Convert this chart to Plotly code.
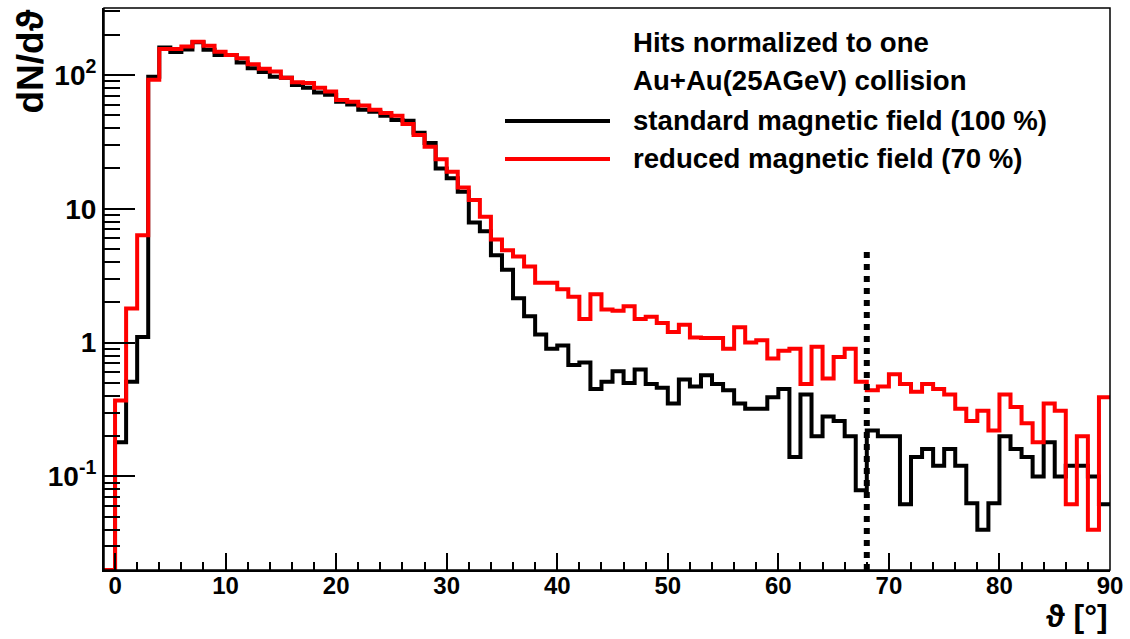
import plotly.graph_objects as go
import numpy as np

# ---------------- data (bin contents, 1-degree bins starting at -1) ----------------
bin_low_edges = list(range(-1, 90))  # left edges of bins: -1 ... 89
x_upper = 90

standard_field = [0,
    0.18, 0.51, 1.1, 97, 160, 148, 155, 175, 154, 141,
    141, 124, 112, 105, 97, 95, 84, 80, 74, 71,
    63, 60, 55, 53, 49.5, 46, 45.5, 37, 31, 20,
    16.9, 13.4, 7.9, 6.8, 4.5, 3.5, 2.14, 1.57, 1.15, 0.9,
    0.95, 0.68, 0.71, 0.45, 0.51, 0.61, 0.50, 0.63, 0.49, 0.46,
    0.35, 0.53, 0.47, 0.57, 0.49, 0.44, 0.35, 0.32, 0.32, 0.39,
    0.45, 0.14, 0.41, 0.20, 0.28, 0.26, 0.20, 0.079, 0.22, 0.20,
    0.20, 0.062, 0.14, 0.16, 0.12, 0.16, 0.12, 0.063, 0.040, 0.063,
    0.20, 0.16, 0.14, 0.10, 0.18, 0.10, 0.12, 0.12, 0.10, 0.062]

reduced_field = [0,
    0.37, 1.8, 6.35, 92, 156, 156, 163, 177, 165, 149,
    141, 133, 120, 111, 106, 95, 88, 87, 80, 75,
    65, 63, 59, 55, 52, 49.5, 43, 35.6, 29, 23.4,
    18.9, 14.4, 11.6, 8.7, 5.9, 4.9, 4.4, 3.7, 2.8, 2.8,
    2.5, 2.2, 1.5, 2.3, 1.77, 1.73, 1.87, 1.5, 1.56, 1.40,
    1.2, 1.36, 1.09, 1.08, 1.08, 0.9, 1.3, 1.0, 1.04, 0.76,
    0.87, 0.9, 0.49, 0.93, 0.54, 0.78, 0.9, 0.51, 0.44, 0.47,
    0.58, 0.49, 0.43, 0.49, 0.45, 0.41, 0.32, 0.26, 0.31, 0.22,
    0.41, 0.33, 0.25, 0.18, 0.35, 0.31, 0.062, 0.20, 0.040, 0.39]

cut_angle = 68
cut_top = 5

y_min, y_max = 0.02, 316
x_min, x_max = -1, 90

legend_header = ["Hits normalized to one", "Au+Au(25AGeV) collision"]
series_names = ["standard magnetic field (100 %)", "reduced magnetic field (70 %)"]
series_colors = ["#000000", "#ff0000"]

FONT = "Liberation Sans, Arial, sans-serif"

# ---------------- figure ----------------
fig = go.Figure()

def step_xy(vals):
    xs = bin_low_edges + [x_upper]
    ys = [v if v > 0 else y_min for v in vals]
    ys = ys + [ys[-1]]
    return xs, ys

for vals, name, col in [(standard_field, series_names[0], series_colors[0]),
                        (reduced_field, series_names[1], series_colors[1])]:
    xs, ys = step_xy(vals)
    fig.add_trace(go.Scatter(x=xs, y=ys, mode="lines", line=dict(shape="hv", color=col, width=4),
                             name=name, showlegend=False))

# cut line
fig.add_trace(go.Scatter(x=[cut_angle, cut_angle], y=[y_min, cut_top], mode="lines",
                         line=dict(color="black", width=6, dash="dot"), showlegend=False))

# y ticks
major_y = [0.1, 1, 10, 100]
major_y_text = ["<b>10<sup>-1</sup></b>", "<b>1</b>", "<b>10</b>", "<b>10<sup>2</sup></b>"]
minor_y = [k * 10.0 ** e for e in range(-2, 3) for k in range(2, 10) if y_min <= k * 10.0 ** e <= y_max]

fig.update_layout(
    width=1130, height=639,
    margin=dict(l=104, r=20, t=8, b=69),
    paper_bgcolor="white", plot_bgcolor="white",
    showlegend=False,
    xaxis=dict(range=[x_min, x_max], showgrid=False, zeroline=False,
               showline=True, linecolor="black", linewidth=2,
               ticks="inside", ticklen=17, tickwidth=2, tickcolor="black",
               tickmode="array", tickvals=list(range(0, 91, 10)),
               ticktext=["<b>%d</b>" % v for v in range(0, 91, 10)],
               tickfont=dict(family=FONT, size=24, color="black"),
               ticklabelstandoff=-7,
               minor=dict(tickmode="array", tickvals=[v for v in range(-1, 91) if v % 2 == 0 and v % 10 != 0],
                          ticks="inside", ticklen=8, tickwidth=2, tickcolor="black")),
    yaxis=dict(type="log", range=[np.log10(y_min), np.log10(y_max)], showgrid=False, zeroline=False,
               showline=True, linecolor="black", linewidth=2,
               ticks="inside", ticklen=31, tickwidth=2, tickcolor="black",
               tickmode="array", tickvals=major_y, ticktext=major_y_text,
               tickfont=dict(family=FONT, size=28, color="black"),
               ticklabelstandoff=0,
               minor=dict(tickmode="array", tickvals=minor_y,
                          ticks="inside", ticklen=16, tickwidth=2, tickcolor="black")),
)

# frame
fig.add_shape(type="rect", xref="paper", yref="paper", x0=0, x1=1, y0=0, y1=1,
              line=dict(color="black", width=1.5), layer="above")

# axis titles
fig.add_annotation(xref="paper", yref="paper", x=-0.074, y=1.0, xanchor="center", yanchor="top",
                   text="<b>dN/dϑ</b>", textangle=-90, showarrow=False,
                   font=dict(family=FONT, size=37, color="black"))
fig.add_annotation(xref="paper", yref="paper", x=1.0, y=-0.081, xanchor="right", yanchor="middle",
                   text="<b>ϑ [°]</b>", showarrow=False,
                   font=dict(family=FONT, size=32, color="black"))

# legend (text + sample lines)
plot_l, plot_w, plot_t, plot_h = 104, 1006, 8, 562
def px2paper(xp, yp):
    return (xp - plot_l) / plot_w, 1 - (yp - plot_t) / plot_h

for txt, yp in zip(legend_header, [42, 80]):
    xx, yy = px2paper(631, yp)
    fig.add_annotation(xref="paper", yref="paper", x=xx, y=yy, xanchor="left", yanchor="middle",
                       text="<b>%s</b>" % txt, showarrow=False,
                       font=dict(family=FONT, size=27.6, color="black"))
for name, col, yp in zip(series_names, series_colors, [121, 159]):
    xx, yy = px2paper(631, yp)
    fig.add_annotation(xref="paper", yref="paper", x=xx, y=yy, xanchor="left", yanchor="middle",
                       text="<b>%s</b>" % name, showarrow=False,
                       font=dict(family=FONT, size=27.6, color="black"))
    x0, y0 = px2paper(505, yp)
    x1, _ = px2paper(610, yp)
    fig.add_shape(type="line", xref="paper", yref="paper", x0=x0, x1=x1, y0=y0, y1=y0,
                  line=dict(color=col, width=4))

fig.write_html("out.html")
